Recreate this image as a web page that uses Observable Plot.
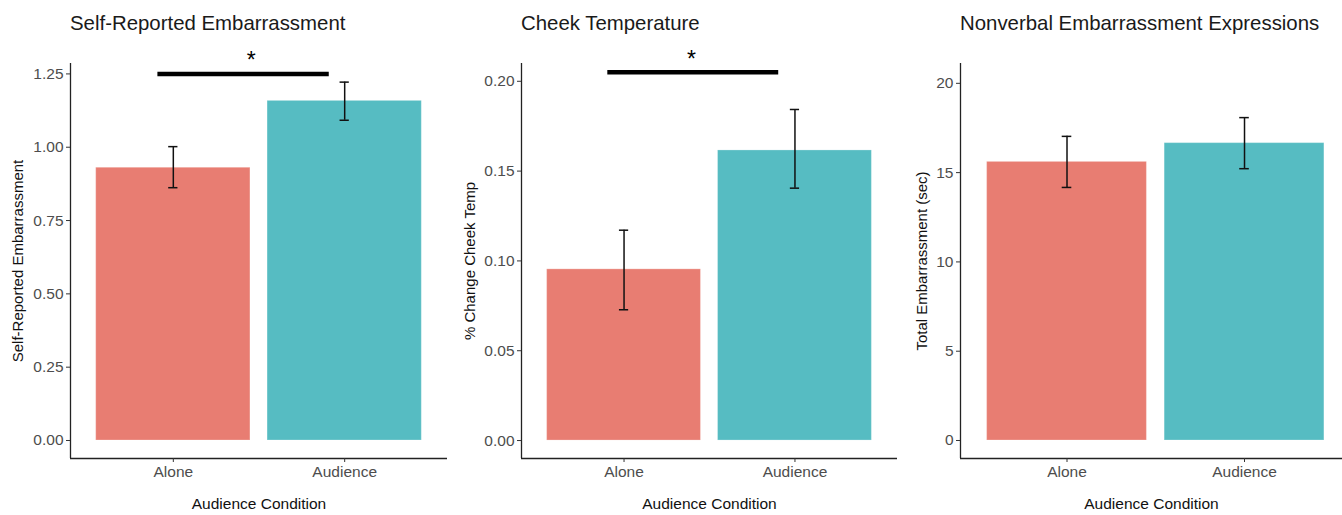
<!DOCTYPE html>
<html><head><meta charset="utf-8">
<script src="https://cdn.jsdelivr.net/npm/d3@7"></script>
<script src="https://cdn.jsdelivr.net/npm/@observablehq/plot@0.6"></script>
<style>
body{margin:0;background:#fff;font-family:"Liberation Sans",Arial,sans-serif;}
#wrap{position:relative;width:1342px;height:515px;overflow:hidden;background:#fff;}
.panel{position:absolute;top:0;}
.title{position:absolute;top:13px;font-size:20.4px;line-height:20px;color:#1a1a1a;white-space:nowrap;font-family:"Liberation Sans",Arial,sans-serif;}
</style></head><body><div id="wrap"></div>
<script>
// ---- data ----
const conditions = ["Alone", "Audience"];
const conditionPos = [1, 2];
const conditionColors = ["#E87D72", "#56BCC2"];

const selfMean = [0.930, 1.158];
const selfLow  = [0.862, 1.092];
const selfHigh = [1.002, 1.222];
const selfTicks = [0, 0.25, 0.5, 0.75, 1.0, 1.25];

const cheekMean = [0.0953, 0.1615];
const cheekLow  = [0.0728, 0.1405];
const cheekHigh = [0.1171, 0.1843];
const cheekTicks = [0, 0.05, 0.10, 0.15, 0.20];

const nonverbalMean = [15.60, 16.65];
const nonverbalLow  = [14.17, 15.22];
const nonverbalHigh = [17.03, 18.08];
const nonverbalTicks = [0, 5, 10, 15, 20];

// significance annotations: [x start, x end, y, star x]
const selfSig  = {x1: 0.91, x2: 1.91, y: 1.25, star: 1.455};
const cheekSig = {x1: 0.905, x2: 1.905, y: 0.205, star: 1.395};

const panels = [
  {title: "Self-Reported Embarrassment", ylabel: "Self-Reported Embarrassment",
   mean: selfMean, low: selfLow, high: selfHigh, ticks: selfTicks, fmt: d => d.toFixed(2),
   ydomain: [-0.0614, 1.2855], xdomain: [0.4, 2.6], sig: selfSig,
   left: 0, width: 447, marginLeft: 70, ylabelDx: -52},
  {title: "Cheek Temperature", ylabel: "% Change Cheek Temp",
   mean: cheekMean, low: cheekLow, high: cheekHigh, ticks: cheekTicks, fmt: d => d.toFixed(2),
   ydomain: [-0.0100, 0.2099], xdomain: [0.4, 2.6], sig: cheekSig,
   left: 450, width: 447, marginLeft: 71, ylabelDx: -51},
  {title: "Nonverbal Embarrassment Expressions", ylabel: "Total Embarrassment (sec)",
   mean: nonverbalMean, low: nonverbalLow, high: nonverbalHigh, ticks: nonverbalTicks, fmt: d => String(d),
   ydomain: [-1.008, 21.11], xdomain: [0.4, 2.552], sig: null,
   left: 890, width: 452, marginLeft: 70, ylabelDx: -38}
];

const wrap = document.getElementById("wrap");
const font = '"Liberation Sans", Arial, sans-serif';

for (const p of panels) {
  const rows = conditions.map((c, i) => ({
    cond: c, pos: conditionPos[i], mean: p.mean[i], low: p.low[i], high: p.high[i], color: conditionColors[i]
  }));
  const capHalf = 0.027;
  const marks = [
    Plot.rectY(rows, {x1: d => d.pos - 0.45, x2: d => d.pos + 0.45, y1: 0, y2: "mean", fill: "color", stroke: "#ffffff", strokeOpacity: 0.25, strokeWidth: 1}),
    Plot.ruleX(rows, {x: "pos", y1: "low", y2: "high", stroke: "#111", strokeWidth: 1.5}),
    Plot.ruleY(rows, {y: "low", x1: d => d.pos - capHalf, x2: d => d.pos + capHalf, stroke: "#111", strokeWidth: 1.5}),
    Plot.ruleY(rows, {y: "high", x1: d => d.pos - capHalf, x2: d => d.pos + capHalf, stroke: "#111", strokeWidth: 1.5}),
    Plot.ruleX([p.xdomain[0]], {stroke: "#222", strokeWidth: 1.3}),
    Plot.ruleY([p.ydomain[0]], {stroke: "#222", strokeWidth: 1.3}),
    Plot.axisY({ticks: p.ticks, tickFormat: p.fmt, tickSize: 4, tickPadding: 3, label: null, stroke: "#333", fill: "#4d4d4d", fontSize: 15.5}),
    Plot.axisX({ticks: conditionPos, tickFormat: i => conditions[i - 1], tickSize: 4, tickPadding: 3, label: null, stroke: "#333", fill: "#4d4d4d", fontSize: 15.5}),
    Plot.text([p.ylabel], {text: d => d, frameAnchor: "left", rotate: -90, dx: p.ylabelDx, fontSize: 15, fill: "#111", textAnchor: "middle"}),
    Plot.text(["Audience Condition"], {text: d => d, frameAnchor: "bottom", dy: 50, fontSize: 15.5, fill: "#111"})
  ];
  if (p.sig) {
    marks.push(Plot.ruleY([p.sig], {y: "y", x1: "x1", x2: "x2", stroke: "#000", strokeWidth: 4.5}));
    marks.push(Plot.text([p.sig], {x: "star", y: "y", text: () => "*", dy: -13, fontSize: 23, fill: "#000"}));
  }
  const svg = Plot.plot({
    width: p.width, height: 515,
    marginTop: 63, marginBottom: 57, marginLeft: p.marginLeft, marginRight: 0,
    style: {fontFamily: font, fontSize: "15.5px", background: "transparent", overflow: "visible"},
    x: {type: "linear", domain: p.xdomain},
    y: {type: "linear", domain: p.ydomain},
    marks
  });
  const div = document.createElement("div");
  div.className = "panel";
  div.style.left = p.left + "px";
  div.appendChild(svg);
  const t = document.createElement("div");
  t.className = "title";
  t.style.left = p.marginLeft + "px";
  t.textContent = p.title;
  div.appendChild(t);
  wrap.appendChild(div);
}
</script>
</body></html>
